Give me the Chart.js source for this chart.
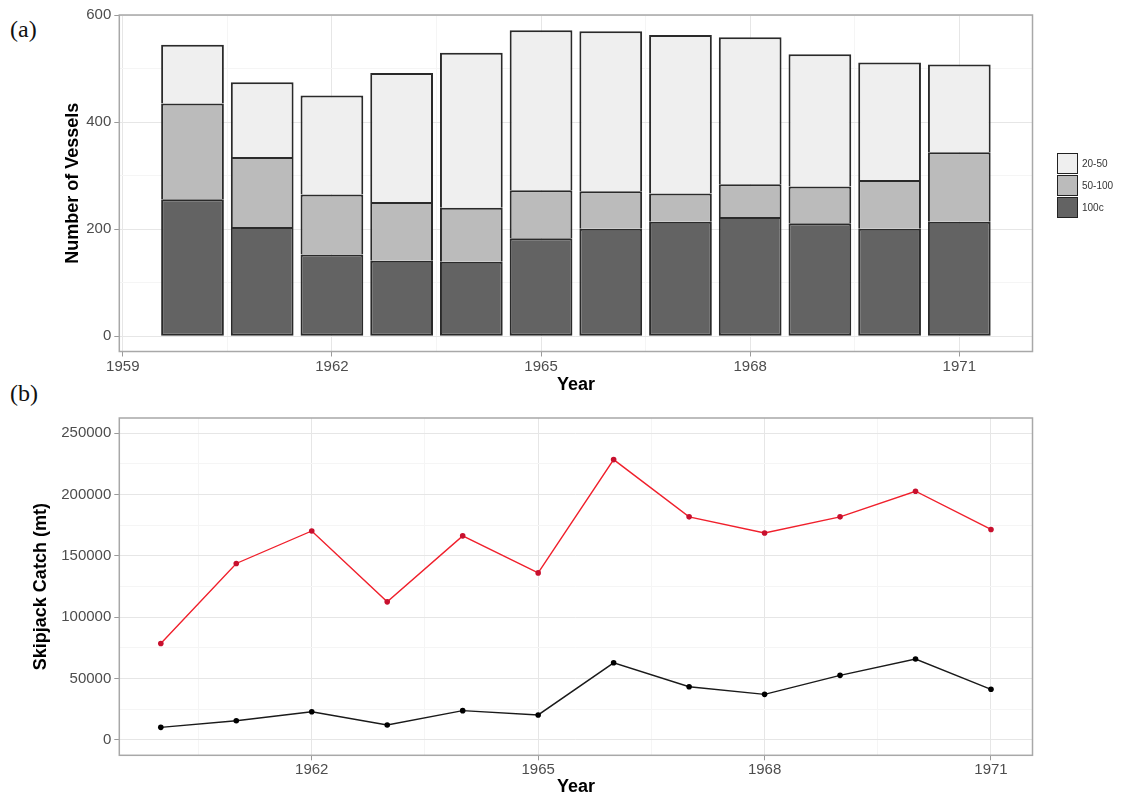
<!DOCTYPE html>
<html>
<head>
<meta charset="utf-8">
<script src="https://cdn.jsdelivr.net/npm/chart.js@4.4.1/dist/chart.umd.min.js"></script>
<style>
body { margin:0; background:#fff; width:1126px; height:800px; position:relative; overflow:hidden; font-family:'Liberation Sans', Arial, sans-serif; }
canvas { position:absolute; left:0; }
#chartA { top:0; }
#chartB { top:400px; }
.panel { position:absolute; left:10px; font-family:'Liberation Serif', serif; font-size:24px; line-height:1; color:#111; }
#legend { position:absolute; left:1057px; top:152px; font-size:10px; color:#333; }
.key { display:flex; align-items:center; height:22px; }
.key .box { width:21px; height:21px; border:1.5px solid #222; box-sizing:border-box; margin-right:4px; }
</style>
</head>
<body>
<div class="panel" style="top:17px">(a)</div>
<div class="panel" style="top:381px">(b)</div>
<canvas id="chartA" width="1126" height="396"></canvas>
<canvas id="chartB" width="1126" height="398"></canvas>
<div id="legend"></div>
<script>
// data
const years = [1960, 1961, 1962, 1963, 1964, 1965, 1966, 1967, 1968, 1969, 1970, 1971];

const vesselNames = ['20-50', '50-100', '100c'];
const v20to50  = [110, 140, 185, 241, 290, 299, 299, 296, 275, 247, 220, 164];
const v50to100 = [179, 131, 112, 110, 101, 90, 70, 53, 61, 69, 91, 130];
const v100c    = [256, 204, 153, 141, 139, 183, 201, 214, 223, 211, 201, 214];
const vesselColors = ['#efefef', '#bbbbbb', '#636363'];

const catchRed   = [78700, 143900, 170400, 112600, 166400, 136200, 228600, 181900, 168800, 181900, 202800, 171600];
const catchBlack = [10300, 15700, 23000, 12200, 23900, 20400, 62900, 43400, 37200, 52700, 66000, 41300];

// ticks
const vesselYTicks = [0, 200, 400, 600];
const vesselYMinor = [100, 300, 500];
const vesselXTicks = [1959, 1962, 1965, 1968, 1971];
const catchXTicks  = [1962, 1965, 1968, 1971];
const xMinor       = [1960.5, 1963.5, 1966.5, 1969.5];
const catchYTicks  = [0, 50000, 100000, 150000, 200000, 250000];
const catchYMinor  = [25000, 75000, 125000, 175000, 225000];

const FONT = "'Liberation Sans', Arial, sans-serif";
Chart.defaults.font.family = FONT;

// panel border like ggplot theme_bw
const boxPlugin = {
	id: 'panelBox',
	afterDraw(chart) {
		const a = chart.chartArea, ctx = chart.ctx;
		ctx.save();
		ctx.strokeStyle = '#a8a8a8';
		ctx.lineWidth = 1.5;
		ctx.strokeRect(a.left, a.top, a.right - a.left, a.bottom - a.top);
		ctx.restore();
	}
};

function axis(opts) {
	const majors = opts.major, minors = opts.minor;
	const isMajor = v => majors.indexOf(v) !== -1;
	return {
		type: 'linear',
		min: opts.min,
		max: opts.max,
		offset: false,
		afterBuildTicks: s => {
			s.ticks = majors.concat(minors).sort((a, b) => a - b).map(v => ({ value: v }));
		},
		afterFit: s => {
			if (opts.width) s.width = opts.width;
			if (opts.height) s.height = opts.height;
		},
		grid: {
			offset: false,
			color: c => (c.tick && isMajor(c.tick.value)) ? '#e6e6e6' : '#f5f5f5',
			tickColor: c => (c.tick && isMajor(c.tick.value)) ? '#9a9a9a' : 'rgba(0,0,0,0)',
			tickLength: 5,
			lineWidth: 1
		},
		border: { display: false },
		ticks: {
			autoSkip: false,
			maxRotation: 0,
			padding: opts.pad,
			color: '#4d4d4d',
			font: { size: 15 },
			callback: v => isMajor(v) ? String(v) : ''
		},
		title: {
			display: true,
			text: opts.title,
			color: '#000',
			padding: 0,
			font: { size: 18, weight: 'bold' }
		}
	};
}

// (a) vessels stacked bars, bottom segment first
const barSets = [
	{ name: vesselNames[2], vals: v100c, col: vesselColors[2] },
	{ name: vesselNames[1], vals: v50to100, col: vesselColors[1] },
	{ name: vesselNames[0], vals: v20to50, col: vesselColors[0] }
];

new Chart(document.getElementById('chartA'), {
	type: 'bar',
	data: {
		datasets: barSets.map((d, k) => ({
			label: d.name,
			data: years.map((y, i) => ({ x: y, y: d.vals[i] })),
			backgroundColor: d.col,
			borderColor: '#2a2a2a',
			borderWidth: 2,
			// upper segments reuse the top edge of the one below
			borderSkipped: k === 0 ? false : 'start',
			inflateAmount: 0,
			categoryPercentage: 1,
			barPercentage: 0.9
		}))
	},
	options: {
		responsive: false,
		animation: false,
		devicePixelRatio: 1,
		layout: { padding: { left: 62, right: 93.5, top: 15, bottom: 0 } },
		plugins: { legend: { display: false }, tooltip: { enabled: false } },
		scales: {
			x: Object.assign(axis({ min: 1958.95, max: 1972.05, major: vesselXTicks, minor: xMinor, title: 'Year', height: 44.5, pad: 1 }), { stacked: true }),
			y: Object.assign(axis({ min: -28.6, max: 600.6, major: vesselYTicks, minor: vesselYMinor, title: 'Number of Vessels', width: 57.3, pad: 3 }), { stacked: true })
		}
	},
	plugins: [boxPlugin]
});

// legend
const legend = document.getElementById('legend');
vesselNames.forEach((n, i) => {
	const row = document.createElement('div');
	row.className = 'key';
	row.innerHTML = '<span class="box" style="background:' + vesselColors[i] + '"></span><span>' + n + '</span>';
	legend.appendChild(row);
});

// (b) skipjack catch lines
new Chart(document.getElementById('chartB'), {
	type: 'line',
	data: {
		datasets: [
			{
				data: years.map((y, i) => ({ x: y, y: catchRed[i] })),
				borderColor: '#f0202c',
				borderWidth: 1.4,
				pointRadius: 2.8,
				pointBackgroundColor: '#c8102e',
				pointBorderColor: '#c8102e',
				pointBorderWidth: 0,
				tension: 0
			},
			{
				data: years.map((y, i) => ({ x: y, y: catchBlack[i] })),
				borderColor: '#1a1a1a',
				borderWidth: 1.4,
				pointRadius: 2.8,
				pointBackgroundColor: '#000',
				pointBorderColor: '#000',
				pointBorderWidth: 0,
				tension: 0
			}
		]
	},
	options: {
		responsive: false,
		animation: false,
		devicePixelRatio: 1,
		layout: { padding: { left: 30, right: 93.5, top: 18, bottom: 0 } },
		plugins: { legend: { display: false }, tooltip: { enabled: false } },
		scales: {
			x: axis({ min: 1959.45, max: 1971.55, major: catchXTicks, minor: xMinor, title: 'Year', height: 42.7, pad: 1 }),
			y: axis({ min: -12500, max: 262500, major: catchYTicks, minor: catchYMinor, title: 'Skipjack Catch (mt)', width: 89.3, pad: 3 })
		}
	},
	plugins: [boxPlugin]
});
</script>
</body>
</html>
